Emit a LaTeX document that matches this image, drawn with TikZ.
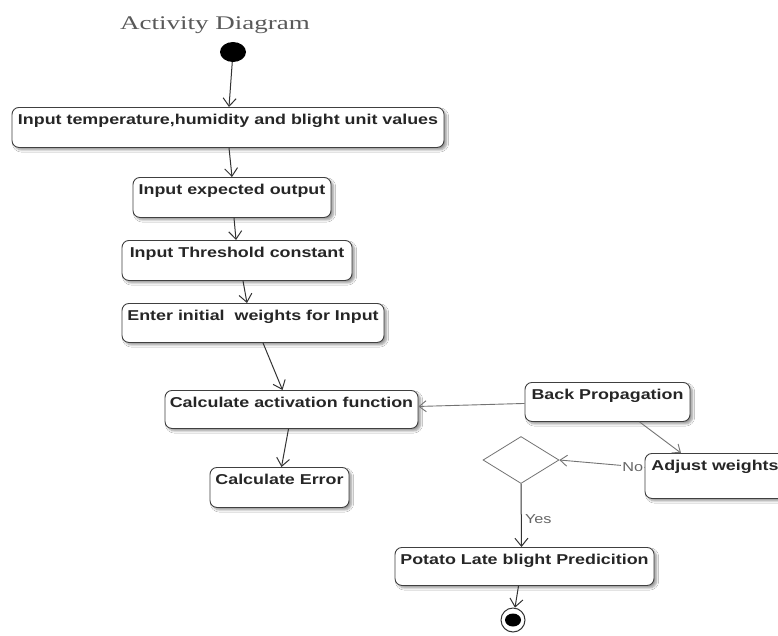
\documentclass[tikz,border=0pt]{standalone}
\usepackage{fontspec}
\setmainfont{Liberation Sans}
\newfontfamily\boxfont{Liberation Sans Bold}[FakeStretch=1.25]
\newfontfamily\lblfont{Liberation Sans}[FakeStretch=1.25]
\newfontfamily\titlefont{Liberation Serif}[FakeStretch=1.4]
\usetikzlibrary{shapes.geometric,arrows.meta,shadows.blur}

\tikzset{
  act/.style={draw=black!75, line width=0.9pt, rounded corners=7pt, fill=white,
    blur shadow={shadow xshift=2.5pt, shadow yshift=-2.5pt, shadow blur steps=6, shadow opacity=40},
    font=\boxfont\fontsize{14.3}{16}\selectfont, text=black!85,
    inner xsep=0pt, inner ysep=0pt, text height=17pt, text depth=23pt,
    anchor=north, minimum width=#1},
  flow/.style={draw=black!80, line width=1pt, -{Straight Barb[length=8pt,width=13pt]}},
  flowlight/.style={draw=black!55, line width=0.9pt, -{Straight Barb[length=7pt,width=11pt]}},
  lbl/.style={font=\lblfont\fontsize{13}{15}\selectfont, text=black!60},
}

\begin{document}
\begin{tikzpicture}[x=1pt,y=-1pt]
  \fill[white] (0,0) rectangle (778,635);
  \clip (0,0) rectangle (778,635);

  % heading
  \node[font=\titlefont\fontsize{19.3}{22}\selectfont, text=black!65, anchor=base] (title) at (215,29) {Activity Diagram};

  % initial node
  \node[ellipse, fill=black, minimum width=26pt, minimum height=20pt, inner sep=0pt] (start) at (233,52) {};

  % actions
  \node[act=432pt] (b1) at (228,107) {Input temperature,humidity and blight unit values};
  \node[act=198pt] (b2) at (232,177) {Input expected output};
  \node[act=230pt] (b3) at (237,240) {Input Threshold constant};
  \node[act=262pt, text depth=22pt] (b4) at (253,303) {Enter initial~ weights for Input};
  \node[act=253pt, text depth=21pt] (b5) at (291.5,390) {Calculate activation function};
  \node[act=139pt] (b6) at (279.5,467) {Calculate Error};
  \node[act=165pt, text depth=22pt] (bp) at (607.5,382) {Back Propagation};
  \node[act=140pt, text depth=28pt] (aw) at (715,453) {Adjust weights};
  \node[act=259pt, text depth=21pt] (pred) at (524.5,547) {Potato Late blight Predicition};

  % decision
  \node[diamond, draw=black!55, line width=0.8pt, fill=white, minimum width=76pt, minimum height=47pt, inner sep=0pt] (dec) at (521,460) {};

  % final node
  \node[circle, draw=black!80, line width=1pt, fill=white, minimum size=24pt, inner sep=0pt] (fin) at (513,620) {};
  \node[ellipse, fill=black, minimum width=16pt, minimum height=13pt, inner sep=0pt] (finDot) at (fin) {};

  % control flow
  \draw[flow] (start) -- ([xshift=1pt]b1.north);
  \draw[flow] ([xshift=1pt]b1.south) -- (b2.north);
  \draw[flow] ([xshift=2pt]b2.south) -- ([xshift=-1pt]b3.north);
  \draw[flow] ([xshift=6pt]b3.south) -- ([xshift=-6pt]b4.north);
  \draw[flow] ([xshift=10pt]b4.south) -- ([xshift=-9pt]b5.north);
  \draw[flow] ([xshift=-3pt]b5.south) -- ([xshift=2pt]b6.north);
  \draw[flowlight] ([yshift=-1.5pt]bp.west) -- ([yshift=3pt]b5.east);
  \draw[flowlight] ([xshift=32pt]bp.south) -- ([xshift=-34pt]aw.north);
  \draw[flowlight] ([yshift=8.5pt]aw.west) -- (dec.east)
    node[pos=0, anchor=east, lbl, fill=white, inner sep=1pt] {No};
  \draw[flow] (dec.south) -- ([xshift=-3pt]pred.north)
    node[midway, right, lbl, yshift=-4pt] {Yes};
  \draw[flow] ([xshift=-6pt]pred.south) -- (fin);
\end{tikzpicture}
\end{document}
